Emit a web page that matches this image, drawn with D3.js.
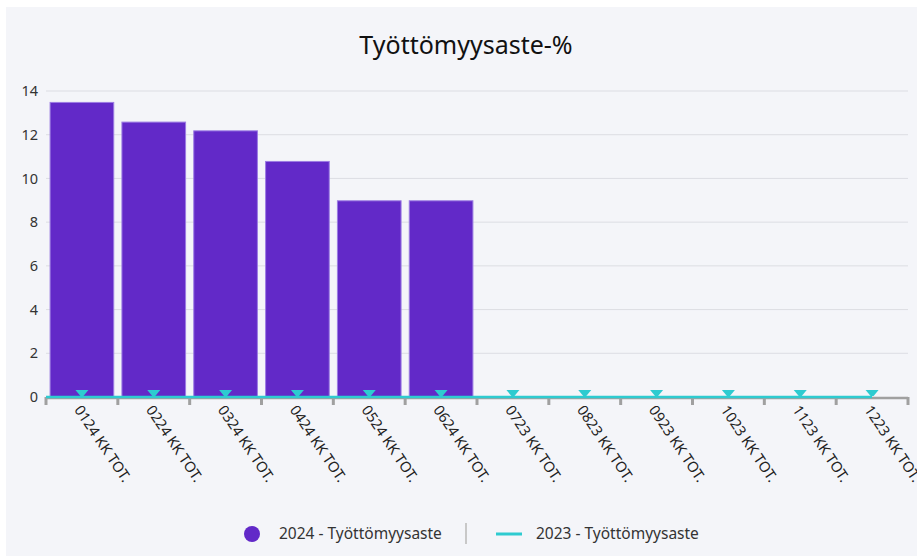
<!DOCTYPE html>
<html>
<head>
<meta charset="utf-8">
<script src="https://cdn.jsdelivr.net/npm/d3@7"></script>
<style>
  html, body { margin: 0; padding: 0; background: #ffffff; }
  svg { display: block; font-family: "Noto Sans", "Open Sans", sans-serif; }
</style>
</head>
<body>
<div id="chart"></div>
<script>
const width = 917,
    height = 556;

const categories = ["0124 KK TOT.", "0224 KK TOT.", "0324 KK TOT.", "0424 KK TOT.", "0524 KK TOT.", "0624 KK TOT.",
    "0723 KK TOT.", "0823 KK TOT.", "0923 KK TOT.", "1023 KK TOT.", "1123 KK TOT.", "1223 KK TOT."];
const values2024 = [13.5, 12.6, 12.2, 10.8, 9.0, 9.0, null, null, null, null, null, null];
const values2023 = [0, 0, 0, 0, 0, 0, 0, 0, 0, 0, 0, 0];
const yTicks = [0, 2, 4, 6, 8, 10, 12, 14];
const seriesNames = ["2024 - Työttömyysaste", "2023 - Työttömyysaste"];

const margin = { left: 46, right: 9, top: 91, bottom: 159 };

const svg = d3.select("#chart")
    .append("svg")
    .attr("width", width)
    .attr("height", height);

// grey panel
svg.append("rect")
    .attr("x", 6)
    .attr("y", 7)
    .attr("width", width - 6)
    .attr("height", height - 7)
    .attr("fill", "#f4f5f9");

const x = d3.scaleBand()
    .domain(categories)
    .range([margin.left, width - margin.right])
    .paddingInner(0.1)
    .paddingOuter(0.05);

const y = d3.scaleLinear()
    .domain([0, 14])
    .range([height - margin.bottom, margin.top]);

// gridlines
svg.append("g")
    .selectAll("line")
    .data(yTicks.filter(d => d > 0))
    .join("line")
    .attr("x1", margin.left)
    .attr("x2", width - margin.right)
    .attr("y1", d => y(d))
    .attr("y2", d => y(d))
    .attr("stroke", "#dcdde3")
    .attr("stroke-width", 1);

// y labels
svg.append("g")
    .selectAll("text")
    .data(yTicks)
    .join("text")
    .attr("x", 38)
    .attr("y", d => y(d))
    .attr("dy", "0.35em")
    .attr("text-anchor", "end")
    .attr("font-size", 14.5)
    .attr("fill", "#333")
    .text(d => d);

// bars
svg.append("g")
    .selectAll("rect")
    .data(categories.map((c, i) => ({ c: c, v: values2024[i] })).filter(d => d.v != null))
    .join("rect")
    .attr("x", d => x(d.c) + 0.5)
    .attr("y", d => y(d.v) + 0.5)
    .attr("width", x.bandwidth() - 1)
    .attr("height", d => y(0) - y(d.v) - 0.5)
    .attr("fill", "#6229c8")
    .attr("stroke", "#9c7ce3")
    .attr("stroke-width", 1);

// x axis
const axisG = svg.append("g");
axisG.append("line")
    .attr("x1", margin.left)
    .attr("x2", width - margin.right)
    .attr("y1", y(0) + 1)
    .attr("y2", y(0) + 1)
    .attr("stroke", "#a0a0a0")
    .attr("stroke-width", 2.5);

const step = x.step();
const tickPos = d3.range(categories.length + 1).map(i => margin.left + i * step);
axisG.selectAll("line.tick")
    .data(tickPos)
    .join("line")
    .attr("class", "tick")
    .attr("x1", d => d)
    .attr("x2", d => d)
    .attr("y1", y(0))
    .attr("y2", y(0) + 8)
    .attr("stroke", "#a0a0a0")
    .attr("stroke-width", 3);

// x labels
axisG.selectAll("text")
    .data(categories)
    .join("text")
    .attr("transform", d => `translate(${x(d) + x.bandwidth() / 2 - 4},${y(0) + 10}) rotate(56)`)
    .attr("dy", "0.35em")
    .attr("font-size", 14.5)
    .attr("fill", "#222")
    .text(d => d);

// 2023 line
svg.append("path")
    .datum(values2023)
    .attr("d", d3.line()
        .x((d, i) => i === 0 ? margin.left : x(categories[i]) + x.bandwidth() / 2)
        .y(d => y(d))(values2023))
    .attr("fill", "none")
    .attr("stroke", "#2ecbd0")
    .attr("stroke-width", 2.5);

svg.append("g")
    .selectAll("path")
    .data(values2023)
    .join("path")
    .attr("transform", (d, i) => `translate(${x(categories[i]) + x.bandwidth() / 2},${y(d) - 1})`)
    .attr("d", "M-6.5,-6 L6.5,-6 L1.5,0 L-1.5,0 Z")
    .attr("fill", "#2ecbd0");

// title
svg.append("text")
    .attr("x", 466)
    .attr("y", 45)
    .attr("dy", "0.35em")
    .attr("text-anchor", "middle")
    .attr("font-size", 25)
    .attr("fill", "#111")
    .text("Työttömyysaste-%");

// legend
const lg = svg.append("g");
lg.append("circle")
    .attr("cx", 252)
    .attr("cy", 534)
    .attr("r", 8)
    .attr("fill", "#6229c8");
lg.append("text")
    .attr("x", 279)
    .attr("y", 534)
    .attr("dy", "0.35em")
    .attr("font-size", 15.5)
    .attr("fill", "#333")
    .text(seriesNames[0]);
lg.append("line")
    .attr("x1", 466).attr("x2", 466)
    .attr("y1", 523).attr("y2", 544)
    .attr("stroke", "#c8c8c8")
    .attr("stroke-width", 2);
lg.append("line")
    .attr("x1", 496).attr("x2", 522)
    .attr("y1", 534).attr("y2", 534)
    .attr("stroke", "#2ecbd0")
    .attr("stroke-width", 3);
lg.append("text")
    .attr("x", 536)
    .attr("y", 534)
    .attr("dy", "0.35em")
    .attr("font-size", 15.5)
    .attr("fill", "#333")
    .text(seriesNames[1]);
</script>
</body>
</html>
